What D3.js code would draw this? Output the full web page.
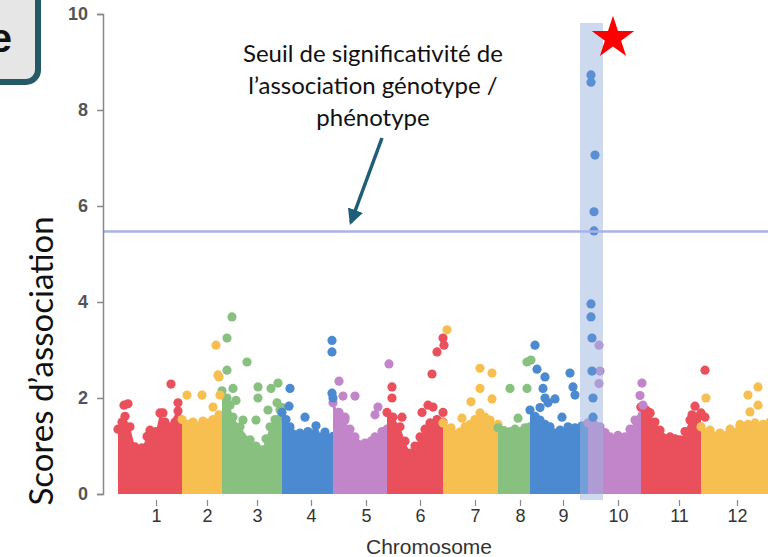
<!DOCTYPE html>
<html>
<head>
<meta charset="utf-8">
<script src="https://cdn.jsdelivr.net/npm/d3@7"></script>
<style>
    html, body { margin: 0; padding: 0; background: #fff; }
    svg { display: block; }
</style>
</head>
<body>
<svg id="chart" width="768" height="557"></svg>
<script>
// chromosome layout (genome position units)
const chromosomes = ['1', '2', '3', '4', '5', '6', '7', '8', '9', '10', '11', '12'];
const chromStart = [15, 79, 119, 179, 230, 284, 340, 395, 427, 485, 538, 598];
const chromEnd = [79, 119, 179, 230, 284, 340, 395, 427, 485, 538, 598, 667];
const tickPos = [53, 104, 154, 208, 263, 317, 372, 417, 460, 515, 576, 634];
const chromColors = ['#e9505c', '#f6bf4f', '#88c07f', '#4b8ad0', '#c285c9', '#e9505c',
    '#f6bf4f', '#88c07f', '#4b8ad0', '#c285c9', '#e9505c', '#f6bf4f'];

const yTicks = [0, 2, 4, 6, 8, 10];
const threshold = 5.47;

// top of the dense cloud of SNPs for each chromosome: [position, score]
const envelopes = [
    [[15, 1.35], [19, 1.5], [22, 1.62], [27, 1.4], [32, 0.98], [39, 0.96], [44, 1.2], [47, 1.33], [53, 1.3], [57, 1.69], [62, 1.5], [67, 1.4], [72, 1.5], [75, 1.58], [79, 1.44]],
    [[79, 1.55], [85, 1.45], [90, 1.5], [100, 1.52], [106, 1.48], [110, 1.55], [116, 1.65], [119, 1.6]],
    [[119, 2.15], [124, 2.0], [127, 1.85], [130, 1.6], [137, 1.4], [147, 1.13], [153, 1.0], [159, 0.92], [163, 1.15], [167, 1.4], [172, 1.55], [177, 1.75], [179, 1.8]],
    [[179, 1.7], [183, 1.55], [187, 1.4], [197, 1.27], [205, 1.3], [212, 1.27], [222, 1.29], [230, 1.2]],
    [[230, 1.9], [236, 1.7], [242, 1.54], [247, 1.35], [252, 1.19], [262, 1.06], [268, 1.1], [272, 1.19], [279, 1.3], [284, 1.35]],
    [[284, 1.7], [290, 1.6], [297, 1.4], [302, 1.1], [307, 0.85], [312, 1.0], [317, 1.19], [322, 1.35], [327, 1.48], [334, 1.55], [340, 1.5]],
    [[340, 1.48], [348, 1.38], [357, 1.29], [362, 1.4], [367, 1.45], [372, 1.55], [377, 1.69], [382, 1.6], [387, 1.54], [395, 1.45]],
    [[395, 1.38], [401, 1.32], [407, 1.3], [412, 1.35], [417, 1.3], [422, 1.38], [427, 1.4]],
    [[427, 1.75], [432, 1.62], [437, 1.54], [442, 1.45], [447, 1.4], [457, 1.33], [465, 1.4], [472, 1.38], [479, 1.42], [485, 1.33]],
    [[485, 1.48], [491, 1.45], [497, 1.4], [502, 1.28], [507, 1.19], [515, 1.22], [522, 1.19], [527, 1.35], [532, 1.54], [538, 1.81]],
    [[538, 1.81], [543, 1.75], [547, 1.69], [552, 1.5], [557, 1.33], [567, 1.19], [572, 1.15], [577, 1.13], [582, 1.3], [587, 1.54], [593, 1.6], [598, 1.69]],
    [[598, 1.4], [607, 1.33], [617, 1.27], [627, 1.35], [637, 1.4], [645, 1.45], [652, 1.48], [660, 1.45], [667, 1.5]]
];

// SNPs standing out of the cloud: [chromosome index, position, score]
const outliers = [
    [0, 21, 1.85], [0, 25, 1.88], [0, 68, 2.29], [0, 75, 1.9], [0, 75, 1.73], [0, 60, 1.69],
    [1, 84, 2.06], [1, 99, 2.06], [1, 113, 3.1], [1, 116, 2.44], [1, 115, 2.48], [1, 117, 2.06], [1, 110, 1.81],
    [2, 129, 3.69], [2, 124, 3.25], [2, 124, 2.58], [2, 144, 2.75], [2, 155, 2.23], [2, 155, 2.0],
    [2, 140, 1.54], [2, 153, 1.54], [2, 168, 2.2], [2, 175, 2.31], [2, 174, 1.9], [2, 165, 1.75],
    [2, 130, 2.2], [2, 133, 1.95],
    [3, 187, 2.2], [3, 186, 1.83], [3, 202, 1.6], [3, 213, 1.42], [3, 229, 3.2], [3, 229, 2.96],
    [3, 229, 2.1], [3, 230, 2.0],
    [4, 236, 2.35], [4, 240, 2.04], [4, 252, 2.04], [4, 242, 1.6], [4, 275, 1.81], [4, 272, 1.65], [4, 286, 2.71],
    [5, 289, 2.23], [5, 289, 2.0], [5, 299, 1.6], [5, 329, 2.5], [5, 334, 2.96], [5, 341, 3.1],
    [5, 340, 3.25], [5, 330, 1.81], [5, 340, 1.7], [5, 319, 1.7], [5, 325, 1.85],
    [6, 344, 3.42], [6, 377, 2.62], [6, 389, 2.52], [6, 377, 2.2], [6, 368, 1.92], [6, 389, 1.98], [6, 359, 1.58],
    [7, 407, 2.2], [7, 424, 2.75], [7, 428, 2.79], [7, 424, 2.2], [7, 415, 1.58],
    [8, 432, 3.1], [8, 434, 2.6], [8, 442, 2.44], [8, 440, 2.2], [8, 445, 1.9], [8, 452, 1.98],
    [8, 467, 2.52], [8, 470, 2.23], [8, 472, 2.06], [8, 459, 1.6], [8, 442, 2.0], [8, 437, 1.8],
    [9, 496, 3.1], [9, 497, 2.56], [9, 496, 2.3], [9, 539, 2.31], [9, 537, 2.05], [9, 540, 1.85],
    [10, 602, 2.58], [10, 592, 1.83], [10, 602, 1.6], [10, 589, 1.65], [10, 547, 1.69],
    [11, 603, 2.0], [11, 645, 2.06], [11, 655, 2.23], [11, 655, 1.85], [11, 647, 1.71], [11, 637, 1.45]
];

// the associated locus (highlighted column)
const locusRange = [477, 500];
const locusHits = [
    [488, 8.73], [488, 8.58], [492, 7.06], [491, 5.88], [491, 5.48], [488, 3.96],
    [488, 3.69], [489, 3.25], [489, 2.56], [490, 2.0], [490, 1.6]
];

const annotationLines = ['Seuil de significativité de', 'l\u2019association génotype /', 'phénotype'];

const svg = d3.select('#chart');
const x = d3.scaleLinear().domain([0, 665]).range([103, 768]);
const y = d3.scaleLinear().domain([0, 10]).range([494, 14]);
const r = 4.6;

// partially visible caption box, top-left
svg.append('rect')
    .attr('x', -30).attr('y', -20).attr('width', 68).attr('height', 102)
    .attr('rx', 12).attr('fill', '#e6e6e6')
    .attr('stroke', '#245a66').attr('stroke-width', 6);
svg.append('text')
    .attr('x', 12).attr('y', 52).attr('text-anchor', 'end')
    .attr('font-family', 'Liberation Sans, Arial, sans-serif')
    .attr('font-weight', 'bold').attr('font-size', 40).attr('fill', '#111')
    .text('e');

const plot = svg.append('g');

// dense clouds
const area = d3.area()
    .x(d => x(d[0]))
    .y0(y(0))
    .y1(d => y(d[1]));

envelopes.forEach((env, i) => {
    plot.append('path')
        .attr('d', area(env))
        .attr('fill', chromColors[i]);
    plot.selectAll(null)
        .data(env)
        .join('circle')
        .attr('cx', d => x(d[0]))
        .attr('cy', d => y(d[1]))
        .attr('r', r)
        .attr('fill', chromColors[i]);
});

plot.selectAll('.snp')
    .data(outliers)
    .join('circle')
    .attr('class', 'snp')
    .attr('cx', d => x(d[1]))
    .attr('cy', d => y(d[2]))
    .attr('r', r)
    .attr('fill', d => chromColors[d[0]]);

// highlight column
svg.append('rect')
    .attr('x', x(locusRange[0])).attr('width', x(locusRange[1]) - x(locusRange[0]))
    .attr('y', 23).attr('height', 500 - 23)
    .attr('fill', '#9bb3df').attr('opacity', 0.5);

svg.selectAll('.hit')
    .data(locusHits)
    .join('circle')
    .attr('class', 'hit')
    .attr('cx', d => x(d[0]))
    .attr('cy', d => y(d[1]))
    .attr('r', r)
    .attr('fill', '#5a8fd3');

// significance threshold
svg.append('line')
    .attr('x1', x(0)).attr('x2', 768)
    .attr('y1', y(threshold)).attr('y2', y(threshold))
    .attr('stroke', '#aab0ea').attr('stroke-width', 2.5);

// y axis
const yAxis = svg.append('g')
    .attr('transform', `translate(${x(0)},0)`)
    .call(d3.axisLeft(y).tickValues(yTicks).tickSize(6).tickPadding(9));
yAxis.select('.domain').attr('stroke', '#888').attr('stroke-width', 1.5);
yAxis.selectAll('.tick line').attr('stroke', '#888').attr('stroke-width', 1.5);
yAxis.selectAll('.tick text')
    .attr('font-family', 'Liberation Sans, Arial, sans-serif')
    .attr('font-size', 18).attr('font-weight', 'bold').attr('fill', '#555');

// x axis
const xAxis = svg.append('g')
    .attr('transform', `translate(0,${y(0) + 6})`)
    .call(d3.axisBottom(x).tickValues(tickPos).tickFormat((d, i) => chromosomes[i]).tickSize(6).tickPadding(3));
xAxis.select('.domain').remove();
xAxis.selectAll('.tick line').attr('stroke', '#888').attr('stroke-width', 1.2);
xAxis.selectAll('.tick text')
    .attr('font-family', 'Liberation Sans, Arial, sans-serif')
    .attr('font-size', 18).attr('fill', '#333');

svg.append('text')
    .attr('x', 429).attr('y', 554).attr('text-anchor', 'middle')
    .attr('font-family', 'Liberation Sans, Arial, sans-serif')
    .attr('font-size', 21).attr('fill', '#333')
    .text('Chromosome');

svg.append('text')
    .attr('transform', 'translate(53,361) rotate(-90)')
    .attr('text-anchor', 'middle')
    .attr('font-family', 'Lato, Open Sans, sans-serif')
    .attr('font-size', 33).attr('fill', '#111')
    .text('Scores d\u2019association');

// annotation
svg.append('text')
    .attr('text-anchor', 'middle')
    .attr('font-family', 'Lato, Open Sans, sans-serif')
    .attr('font-size', 24).attr('fill', '#111')
    .selectAll('tspan')
    .data(annotationLines)
    .join('tspan')
    .attr('x', 373)
    .attr('y', (d, i) => 62 + i * 32)
    .text(d => d);

svg.append('defs').append('marker')
    .attr('id', 'head').attr('viewBox', '0 0 10 10')
    .attr('refX', 8).attr('refY', 5)
    .attr('markerWidth', 4.5).attr('markerHeight', 4.5)
    .attr('orient', 'auto')
    .append('path').attr('d', 'M0,0L10,5L0,10Z').attr('fill', '#1d5e78');
svg.append('line')
    .attr('x1', 382).attr('y1', 138).attr('x2', 351).attr('y2', 222)
    .attr('stroke', '#1d5e78').attr('stroke-width', 3.5)
    .attr('marker-end', 'url(#head)');

// red star
const star = d3.symbol().type(d3.symbolStar).size(560);
svg.append('path')
    .attr('d', star())
    .attr('transform', 'translate(613,38)')
    .attr('fill', '#ff0000');
</script>
</body>
</html>
